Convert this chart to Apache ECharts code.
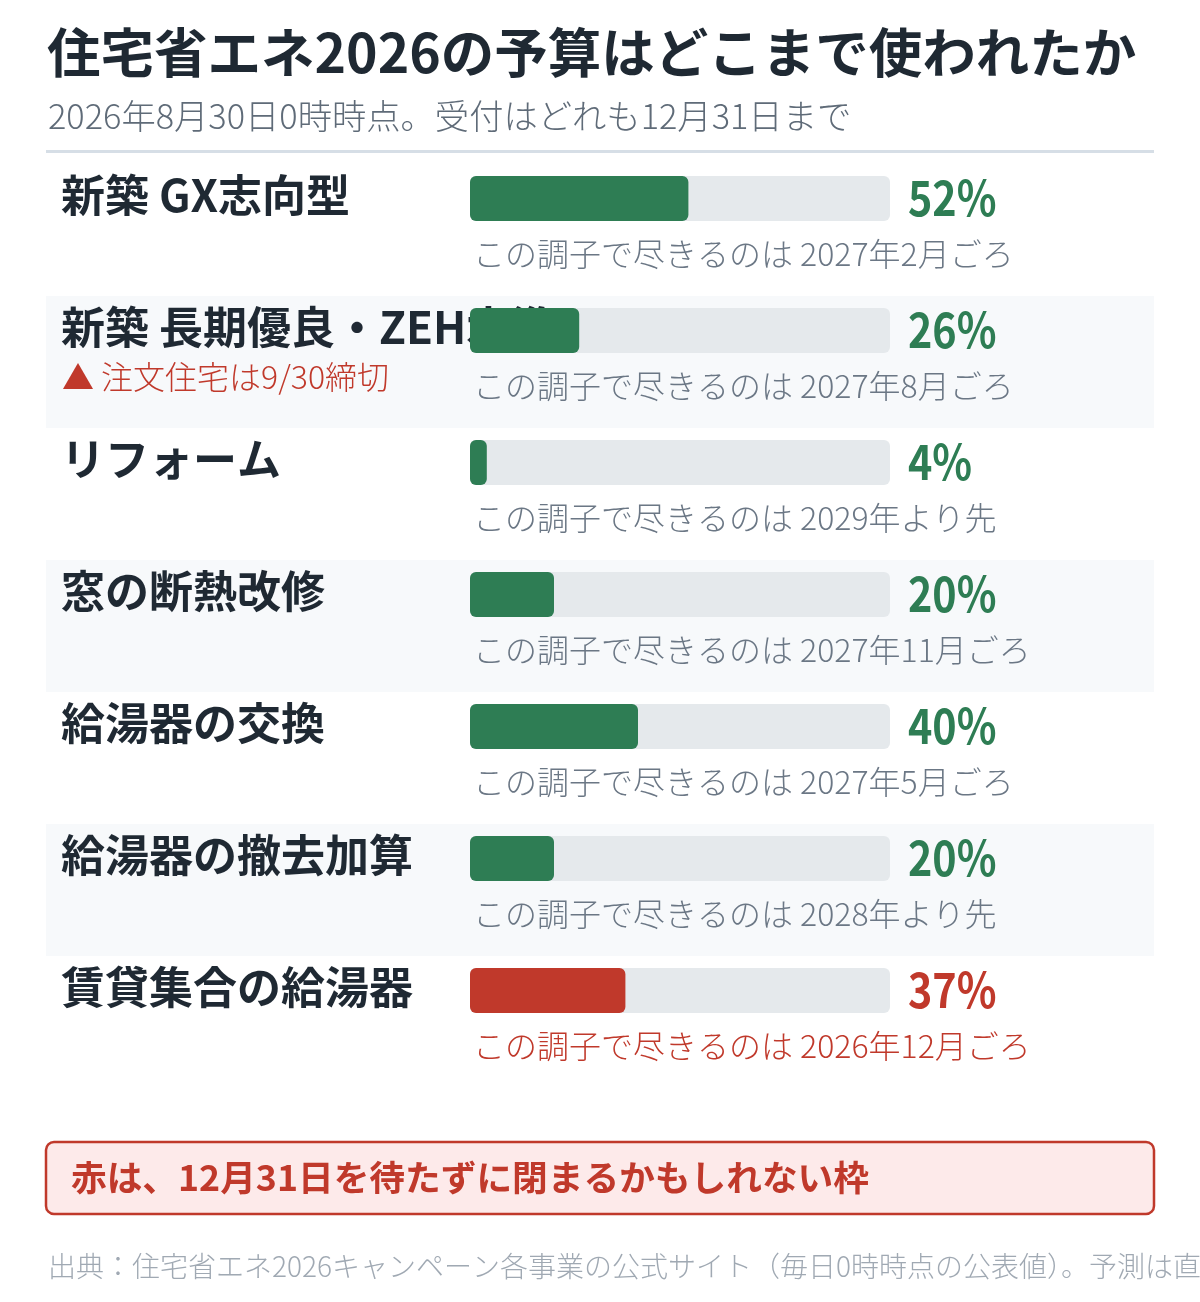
<!DOCTYPE html>
<html><head><meta charset="utf-8">
<script src="https://cdn.jsdelivr.net/npm/echarts@6/dist/echarts.min.js"></script>
<style>html,body{margin:0;padding:0;background:#fff}#c{width:1200px;height:1302px}</style>
</head><body><div id="c"></div>
<script>
const titleText = '住宅省エネ2026の予算はどこまで使われたか';
const subtitleText = '2026年8月30日0時時点。受付はどれも12月31日まで';
const categories = ['新築 GX志向型','新築 長期優良・ZEH水準','リフォーム','窓の断熱改修','給湯器の交換','給湯器の撤去加算','賃貸集合の給湯器'];
const usedPct = [52, 26, 4, 20, 40, 20, 37];
const runOut = ['2027年2月ごろ','2027年8月ごろ','2029年より先','2027年11月ごろ','2027年5月ごろ','2028年より先','2026年12月ごろ'];
const atRisk = [false, false, false, false, false, false, true];
const subNotes = ['', '▲ 注文住宅は9/30締切', '', '', '', '', ''];
const notePrefix = 'この調子で尽きるのは ';
const calloutText = '赤は、12月31日を待たずに閉まるかもしれない枠';
const sourceText = '出典：住宅省エネ2026キャンペーン各事業の公式サイト（毎日0時時点の公表値）。予測は直近のペースが続いた場合の目安';

const FONT = '"Noto Sans CJK JP", "Noto Sans", sans-serif';
const GREEN = '#2e7d54';
const RED = '#c0392b';
const TRACK = '#e5e9ec';
const DARK = '#1f2933';
const GRAY = '#6b7785';

const chart = echarts.init(document.getElementById('c'), null, {renderer: 'canvas'});

const data = categories.map((c, i) => [i, usedPct[i]]);

chart.setOption({
  animation: false,
  backgroundColor: '#ffffff',
  grid: {left: 470, width: 420, top: 164, height: 924},
  xAxis: {type: 'value', min: 0, max: 100, show: false},
  yAxis: {type: 'category', data: categories, inverse: true, show: false},
  graphic: [
    {type: 'text', x: 47, y: 53, style: {text: titleText, font: 'bold 53.5px ' + FONT, fill: DARK, verticalAlign: 'middle'}},
    {type: 'text', x: 48, y: 116, style: {text: subtitleText, font: '300 34.3px ' + FONT, fill: '#5f6b78', verticalAlign: 'middle'}},
    {type: 'rect', shape: {x: 46, y: 150, width: 1108, height: 3}, style: {fill: '#d6dee6'}},
    {type: 'rect', shape: {x: 46, y: 1142, width: 1108, height: 72, r: 8}, style: {fill: '#fdeaea', stroke: RED, lineWidth: 2.5}},
    {type: 'text', x: 71, y: 1177, style: {text: calloutText, font: 'bold 35.7px ' + FONT, fill: RED, verticalAlign: 'middle'}},
    {type: 'text', x: 48, y: 1266, style: {text: sourceText, font: '300 28px ' + FONT, fill: '#a0a9b3', verticalAlign: 'middle'}}
  ],
  series: [{
    type: 'custom',
    clip: false,
    data: data,
    encode: {x: 1, y: 0},
    renderItem: function (params, api) {
      const idx = api.value(0);
      const val = api.value(1);
      const origin = api.coord([0, idx]);
      const end = api.coord([100, idx]);
      const filled = api.coord([val, idx]);
      const band = api.size([0, 1])[1];
      const top = origin[1] - band / 2;
      const x0 = origin[0];
      const trackW = end[0] - x0;
      const barTop = top + 12, barH = 45;
      const color = atRisk[idx] ? RED : GREEN;
      const children = [];
      if (idx % 2 === 1) {
        children.push({type: 'rect', shape: {x: 46, y: top, width: 1108, height: band}, style: {fill: '#f7f9fb'}});
      }
      children.push({type: 'text', x: 61, y: top + 31, style: {text: categories[idx], font: 'bold 44px ' + FONT, fill: DARK, verticalAlign: 'middle'}});
      if (subNotes[idx]) {
        children.push({type: 'text', x: 62, y: top + 81, style: {text: subNotes[idx], font: '300 32px ' + FONT, fill: RED, verticalAlign: 'middle'}});
      }
      children.push({type: 'rect', shape: {x: x0, y: barTop, width: trackW, height: barH, r: 6}, style: {fill: TRACK}});
      children.push({type: 'rect', shape: {x: x0, y: barTop, width: filled[0] - x0, height: barH, r: 6}, style: {fill: color}});
      children.push({type: 'text', x: end[0] + 18, y: top + 34, scaleX: 0.86, style: {text: val + '%', font: 'bold 48px ' + FONT, fill: color, verticalAlign: 'middle'}});
      children.push({type: 'text', x: x0 + 3, y: top + 90, style: {text: notePrefix + runOut[idx], font: '300 32px ' + FONT, fill: atRisk[idx] ? RED : GRAY, verticalAlign: 'middle'}});
      return {type: 'group', children: children};
    }
  }]
});
</script>
</body></html>
